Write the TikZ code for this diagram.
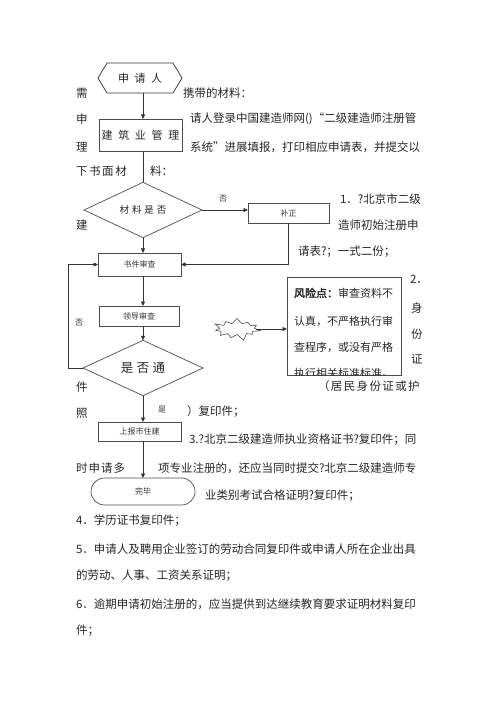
\documentclass[tikz,border=0pt]{standalone}
\usepackage{fontspec}
\setmainfont{Noto Sans CJK SC}
\newfontfamily\cjkbold{Noto Sans CJK SC}[FakeBold=2.5]
\usetikzlibrary{arrows.meta,shapes.geometric,shapes.symbols,shapes.misc}
\newcommand\spacedtxt[2]{{\addfontfeatures{LetterSpace=#1}#2}}
\begin{document}
\begin{tikzpicture}[x=1pt,y=-1pt,
  every node/.style={inner sep=0pt, outer sep=0pt},
  body/.style={anchor=west, font=\fontsize{11.5}{14}\selectfont, text=black!85},
  flowbox/.style={draw=black!70, line width=0.7pt, rectangle},
  conn/.style={draw=black!80, line width=0.7pt},
  arr/.style={conn, -{Triangle[length=4.5pt,width=4pt]}},
  smalltxt/.style={font=\fontsize{8}{9}\selectfont, text=black!80},
  boxtxt/.style={font=\fontsize{11}{13}\selectfont, text=black!85}
]
\useasboundingbox (0,0) rectangle (500,708);
\coordinate (spine) at (143,0);
\coordinate (loopx) at (68,0);

% ---------- body text ----------
\node[body] (t1) at (76,93) {需};
\node[body] (t2) at (183,93) {携带的材料：};
\node[body] (t3) at (76,119) {申};
\node[body] (t4) at (190,119) {请人登录中国建造师网()“二级建造师注册管};
\node[body] (t5) at (76,147) {理};
\node[body] (t6) at (190,147) {系统”进展填报，打印相应申请表，并提交以};
\node[body] (t7) at (76,171) {\spacedtxt{14}{下书面材}};
\node[body] (t8) at (150,171) {料：};
\node[body] (t9) at (340,199) {1．?北京市二级};
\node[body] (t10) at (76,225) {建};
\node[body] (t11) at (338,225) {造师初始注册申};
\node[body] (t12) at (298,252) {请表?；一式二份；};
\node[body] (t13) at (410,279) {2．};
\node[body] (t14) at (411,308) {身};
\node[body] (t15) at (411,334) {份};
\node[body] (t16) at (411,359) {证};
\node[body] (t17) at (318,386) {\spacedtxt{12}{（居民身份证或护}};
\node[body] (t18) at (76,387) {件};
\node[body] (t19) at (76,413) {照};
\node[body] (t20) at (187,412) {）复印件；};
\node[body] (t21) at (189,440) {3.?北京二级建造师执业资格证书?复印件；同};
\node[body] (t22) at (76,468) {\spacedtxt{9}{时申请多}};
\node[body] (t23) at (158,468) {项专业注册的，还应当同时提交?北京二级建造师专};
\node[body] (t24) at (205,496) {业类别考试合格证明?复印件；};
\node[body] (t25) at (76,521) {4．学历证书复印件；};
\node[body] (t26) at (76,549) {5．申请人及聘用企业签订的劳动合同复印件或申请人所在企业出具};
\node[body] (t27) at (76,576) {的劳动、人事、工资关系证明；};
\node[body] (t28) at (76,604) {6．逾期申请初始注册的，应当提供到达继续教育要求证明材料复印};
\node[body] (t29) at (76,631) {件；};

% ---------- flowchart ----------
\node[boxtxt, minimum width=84pt, minimum height=30pt] (hex) at (140,78) {\spacedtxt{50}{申请人}};
\draw[conn] (hex.west) -- ([xshift=9pt]hex.north west) -- ([xshift=-9pt]hex.north east)
  -- (hex.east) -- ([xshift=-9pt]hex.south east) -- ([xshift=9pt]hex.south west) -- cycle;

\node[flowbox, boxtxt, minimum width=83pt, minimum height=32pt] (jz) at (140.5,135) {\spacedtxt{52}{建筑业管理}};
\node[diamond, draw=black!70, line width=0.7pt, minimum width=118pt, minimum height=38pt,
  font=\fontsize{9.5}{11}\selectfont, text=black!85] (d1) at (143,210) {\spacedtxt{30}{材料是否}};
\node[flowbox, smalltxt, minimum width=81pt, minimum height=20pt] (bz) at (288.5,213) {补正};
\node[flowbox, smalltxt, minimum width=83pt, minimum height=23pt] (sj) at (139.5,264.5) {书件审查};
\node[flowbox, smalltxt, minimum width=80pt, minimum height=20pt] (ld) at (139,316) {领导审查};
\node[diamond, draw=black!70, line width=0.7pt, minimum width=120pt, minimum height=46pt,
  font=\fontsize{12.5}{14}\selectfont, text=black!85] (d2) at (143,368) {\spacedtxt{27}{是否通}};
\node[flowbox, smalltxt, minimum width=83pt, minimum height=19pt] (sb) at (139.5,431.5) {上报市住建};
\node[rounded rectangle, draw=black!70, line width=0.7pt, smalltxt, minimum width=104pt, minimum height=27pt] (end) at (143,491.5) {完毕};

\node[starburst, draw=black!70, line width=0.6pt, minimum width=49pt, minimum height=25pt,
  starburst points=11, starburst point height=7pt] (burst) at (237,329) {};
\node[flowbox, minimum width=114pt, minimum height=98pt] (risk) at (344,326) {};
\begin{scope}
  \clip (risk.south west) rectangle (risk.north east);
  \node[anchor=west, font=\fontsize{11}{13}\selectfont, text=black!85] (r1) at (294,293) {{\cjkbold 风险点：}审查资料不};
  \node[anchor=west, font=\fontsize{11}{13}\selectfont, text=black!85] (r2) at (294,321) {认真，不严格执行审};
  \node[anchor=west, font=\fontsize{11}{13}\selectfont, text=black!85] (r3) at (294,347) {查程序，或没有严格};
  \node[anchor=west, font=\fontsize{11}{13}\selectfont, text=black!85] (r4) at (294,373) {执行相关标准标准。};
\end{scope}

% ---------- connectors ----------
\draw[arr] (hex.south -| spine) -- (jz.north -| spine);
\draw[conn] (jz.south -| spine) -- (d1.north);
\draw[arr] (d1.east) -- (d1.east -| bz.west);
\node[smalltxt] (no1) at (223,199) {否};
\draw[arr] (bz.south) |- (sj.east);
\draw[arr] (d1.south) -- (sj.north -| d1.south);
\draw[arr] (sj.south -| spine) -- (ld.north -| spine);
\draw[arr] (ld.south -| spine) -- (d2.north);
\draw[arr] (d2.west) -- (d2.west -| loopx) |- (sj.west);
\node[smalltxt] (no2) at (79,323) {否};
\draw[arr] (d2.south) -- (sb.north -| d2.south);
\node[smalltxt] (yes) at (162,410) {是};
\draw[arr] (sb.south -| spine) -- (end.north);
\draw[arr] (burst.east) -- (burst.east -| risk.west);
\end{tikzpicture}
\end{document}
